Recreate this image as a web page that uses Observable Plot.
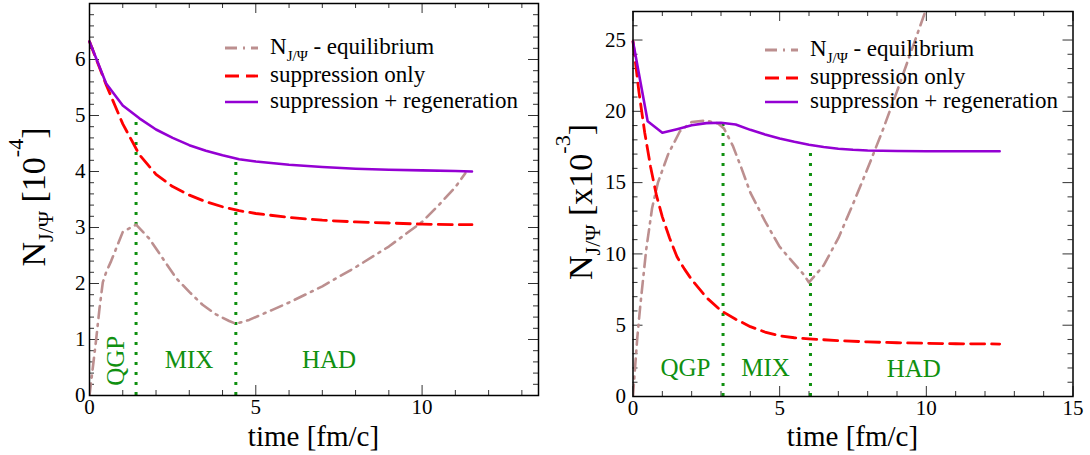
<!DOCTYPE html>
<html><head><meta charset="utf-8">
<script src="https://cdn.jsdelivr.net/npm/d3@7"></script>
<script src="https://cdn.jsdelivr.net/npm/@observablehq/plot@0.6"></script>
<style>
body{margin:0;background:#fff;}
#wrap{display:flex;width:1090px;height:455px;}
#wrap > div{width:545px;height:455px;}
svg{display:block}
</style></head><body><div id="wrap"><div id="left"></div><div id="right"></div></div>
<script>
// ---------- LEFT PANEL DATA ----------
const leftRegenT = [0,0.5,1,1.5,2,2.5,3,3.5,4,4.5,5,6,7,8,9,10,11,11.5];
const leftRegenN = [6.32,5.57,5.18,4.95,4.75,4.6,4.47,4.37,4.29,4.22,4.18,4.12,4.08,4.05,4.03,4.02,4.01,4.0];
const leftSuppT = [0,0.5,1,1.5,2,2.5,3,3.5,4,4.5,5,6,7,8,9,10,11,11.5];
const leftSuppN = [6.32,5.55,4.85,4.3,3.95,3.73,3.58,3.46,3.37,3.3,3.25,3.18,3.13,3.1,3.08,3.06,3.05,3.05];
const leftEqT = [0,0.1,0.2,0.3,0.4,0.5,0.65,1.0,1.4,1.8,2.2,2.6,3.0,3.4,3.8,4.2,4.4,4.8,5.5,6,7,8,9,10,10.5,11,11.3];
const leftEqN = [0,0.5,1.0,1.55,2.02,2.2,2.4,2.92,3.05,2.8,2.45,2.1,1.85,1.62,1.45,1.33,1.28,1.35,1.53,1.66,1.95,2.29,2.66,3.1,3.4,3.72,3.97];
const leftPhaseT = [1.4, 4.4];
const leftPhaseTop = [4.93, 4.21];
const leftPhaseLabels = ["MIX", "HAD"];
const leftPhaseLabelT = [2.99, 7.2];
const leftPhaseLabelN = [0.64, 0.64];
const leftQgpT = [0.79];
const leftQgpN = [0.62];
const leftXTicks = [0, 5, 10];
const leftYTicks = [0, 1, 2, 3, 4, 5, 6];

// ---------- RIGHT PANEL DATA ----------
const rightRegenT = [0,0.5,1,1.5,2,2.5,3,3.5,4,4.5,5,5.5,6,6.5,7,7.5,8,9,10,11,12.5];
const rightRegenN = [24.9,19.3,18.5,18.75,19.02,19.17,19.2,19.08,18.7,18.38,18.1,17.86,17.66,17.5,17.38,17.3,17.25,17.22,17.2,17.2,17.2];
const rightSuppT = [0,0.2,0.4,0.6,0.8,1.0,1.25,1.5,1.75,2,2.5,3,3.5,4,4.5,5,5.5,6,7,8,9,10,11,12.5];
const rightSuppN = [24.9,21.4,18.5,16.1,14.1,12.6,11.1,9.8,8.95,8.2,6.95,6.02,5.42,4.9,4.52,4.25,4.12,4.04,3.92,3.83,3.77,3.73,3.7,3.68];
const rightEqT = [0,0.05,0.15,0.25,0.45,0.65,0.85,1.2,1.6,2.0,2.5,2.9,3.1,3.4,3.7,4.0,4.5,5.0,5.5,5.8,6.0,6.5,7.0,7.5,8.0,8.5,9.0,9.5,10.0];
const rightEqN = [0,1.5,4.2,6.4,10.3,13.2,15.0,17.0,18.6,19.25,19.35,19.15,18.8,17.6,16.0,14.3,12.3,10.5,9.3,8.6,8.0,9.2,11.1,13.5,16.0,18.6,21.4,24.3,27.2];
const rightPhaseT = [3.07, 6.05];
const rightPhaseTop = [19.2, 17.65];
const rightPhaseLabels = ["QGP", "MIX", "HAD"];
const rightPhaseLabelT = [1.79, 4.52, 9.57];
const rightPhaseLabelN = [2.0, 2.0, 1.95];
const rightXTicks = [0, 5, 10, 15];
const rightYTicks = [0, 5, 10, 15, 20, 25];

// ---------- LEGEND ----------
const legendKeys = ["eq", "supp", "regen"];
const legendTexts = ["equilibrium", "suppression only", "suppression + regeneration"];

const FONT = "'Liberation Serif', 'Times New Roman', serif";
const COL = {eq: "#bc8f8f", supp: "#ff0000", regen: "#9400d3", green: "#109010"};
const DASH = {eq: "12,6,2,6", supp: "14,7", regen: null};

const zip = (t, n) => t.map((d, i) => ({t: d, n: n[i]}));

function panel(cfg) {
  const W = 545, H = 455;
  const m = cfg.margin;
  const innerH = H - m.top - m.bottom;
  const innerW = W - m.left - m.right;
  const phase = cfg.phaseT.map((d, i) => ({t: d, top: cfg.phaseTop[i]}));
  const labs = cfg.labels.map((d, i) => ({s: d, t: cfg.labelT[i], n: cfg.labelN[i]}));
  const marks = [
    Plot.tickX(cfg.xMajor, {x: d => d, insetTop: innerH - 10, stroke: "#333"}),
    Plot.tickX(cfg.xMajor, {x: d => d, insetBottom: innerH - 10, stroke: "#333"}),
    Plot.tickX(cfg.xMinor, {x: d => d, insetTop: innerH - 5, stroke: "#333"}),
    Plot.tickX(cfg.xMinor, {x: d => d, insetBottom: innerH - 5, stroke: "#333"}),
    Plot.tickY(cfg.yMajor, {y: d => d, insetRight: innerW - 10, stroke: "#333"}),
    Plot.tickY(cfg.yMajor, {y: d => d, insetLeft: innerW - 10, stroke: "#333"}),
    Plot.tickY(cfg.yMinor, {y: d => d, insetRight: innerW - 5, stroke: "#333"}),
    Plot.tickY(cfg.yMinor, {y: d => d, insetLeft: innerW - 5, stroke: "#333"}),
    Plot.ruleX(phase, {x: "t", y1: 0, y2: "top", stroke: COL.green, strokeWidth: 3, strokeDasharray: "3,7"}),
    Plot.line(zip(cfg.eqT, cfg.eqN), {x: "t", y: "n", stroke: COL.eq, strokeWidth: 2.6, strokeDasharray: DASH.eq, clip: true}),
    Plot.line(zip(cfg.suppT, cfg.suppN), {x: "t", y: "n", stroke: COL.supp, strokeWidth: 2.8, strokeDasharray: DASH.supp}),
    Plot.line(zip(cfg.regenT, cfg.regenN), {x: "t", y: "n", stroke: COL.regen, strokeWidth: 2.6}),
    Plot.text(labs, {x: "t", y: "n", text: "s", fill: COL.green, fontSize: 25})
  ];
  if (cfg.qgpT) {
    const q = cfg.qgpT.map((d, i) => ({t: d, n: cfg.qgpN[i]}));
    marks.push(Plot.text(q, {x: "t", y: "n", text: () => "QGP", rotate: -90, fill: COL.green, fontSize: 25}));
  }
  marks.push(Plot.frame({stroke: "#000", strokeWidth: 1.5}));
  const svg = Plot.plot({
    width: W, height: H,
    marginLeft: m.left, marginRight: m.right, marginTop: m.top, marginBottom: m.bottom,
    style: {fontFamily: FONT, fontSize: "21px", background: "white", color: "black"},
    x: {domain: cfg.xDomain, ticks: cfg.xTicks, tickFormat: d => String(d), tickSize: 0, tickPadding: 4, label: null},
    y: {domain: cfg.yDomain, ticks: cfg.yTicks, tickFormat: d => String(d), tickSize: 0, tickPadding: cfg.yPad, label: null},
    marks
  });
  const s = d3.select(svg);
  // x-axis title
  s.append("text").attr("x", m.left + innerW / 2).attr("y", 446)
    .attr("text-anchor", "middle").attr("font-family", FONT).attr("font-size", 29).attr("fill", "black")
    .text("time [fm/c]");
  // y-axis title
  const yt = s.append("text")
    .attr("transform", `translate(${cfg.yTitleX},${cfg.yTitleY}) rotate(-90)`)
    .attr("text-anchor", "middle").attr("font-family", FONT).attr("font-size", 34).attr("fill", "black");
  yt.append("tspan").text("N");
  yt.append("tspan").attr("font-size", 22).attr("dy", 8).text("J/Ψ");
  yt.append("tspan").attr("dy", -8).text(cfg.unitPre);
  yt.append("tspan").attr("font-size", 22).attr("dy", -22).text(cfg.unitExp);
  yt.append("tspan").attr("dy", 22).text("]");
  // legend
  const lg = s.append("g").attr("font-family", FONT).attr("text-anchor", "start");
  legendKeys.forEach((k, i) => {
    const ly = cfg.legLineY[i];
    lg.append("line").attr("x1", cfg.legX1).attr("x2", cfg.legX2).attr("y1", ly).attr("y2", ly)
      .attr("stroke", COL[k]).attr("stroke-width", k === "regen" ? 2.6 : 2.8)
      .attr("stroke-dasharray", DASH[k]);
    const t = lg.append("text").attr("x", cfg.legTX).attr("y", ly + 6)
      .attr("text-anchor", "start").attr("font-size", 23).attr("fill", "black");
    if (k === "eq") {
      t.append("tspan").text("N");
      t.append("tspan").attr("font-size", 15).attr("dy", 7).text("J/Ψ");
      t.append("tspan").attr("dy", -7).text(" - " + legendTexts[i]);
    } else {
      t.text(legendTexts[i]);
    }
  });
  return svg;
}

document.getElementById("left").append(panel({
  margin: {left: 89, right: 7, top: 3, bottom: 60},
  xDomain: [0, 13.5], yDomain: [0, 7],
  xTicks: leftXTicks, yTicks: leftYTicks, yPad: 4,
  xMajor: [0, 5, 10], xMinor: d3.range(1, 14).filter(d => d % 5 !== 0),
  yMajor: d3.range(0, 8), yMinor: d3.range(1, 35).map(d => d / 5).filter(d => Math.abs(d - Math.round(d)) > 1e-6),
  eqT: leftEqT, eqN: leftEqN, suppT: leftSuppT, suppN: leftSuppN, regenT: leftRegenT, regenN: leftRegenN,
  phaseT: leftPhaseT, phaseTop: leftPhaseTop,
  labels: leftPhaseLabels, labelT: leftPhaseLabelT, labelN: leftPhaseLabelN,
  qgpT: leftQgpT, qgpN: leftQgpN,
  yTitleX: 45, yTitleY: 197, unitPre: " [10", unitExp: "-4",
  legX1: 225, legX2: 258, legTX: 270, legLineY: [48, 76, 102]
}));

document.getElementById("right").append(panel({
  margin: {left: 87.5, right: 17.5, top: 11, bottom: 59},
  xDomain: [0, 15], yDomain: [0, 27],
  xTicks: rightXTicks, yTicks: rightYTicks, yPad: 7,
  xMajor: [0, 5, 10, 15], xMinor: d3.range(1, 15).filter(d => d % 5 !== 0),
  yMajor: [0, 5, 10, 15, 20, 25], yMinor: d3.range(1, 28).filter(d => d % 5 !== 0),
  eqT: rightEqT, eqN: rightEqN, suppT: rightSuppT, suppN: rightSuppN, regenT: rightRegenT, regenN: rightRegenN,
  phaseT: rightPhaseT, phaseTop: rightPhaseTop,
  labels: rightPhaseLabels, labelT: rightPhaseLabelT, labelN: rightPhaseLabelN,
  qgpT: null,
  yTitleX: 47, yTitleY: 202, unitPre: " [x10", unitExp: "-3",
  legX1: 220, legX2: 253, legTX: 265, legLineY: [50, 78, 102]
}));
</script></body></html>
